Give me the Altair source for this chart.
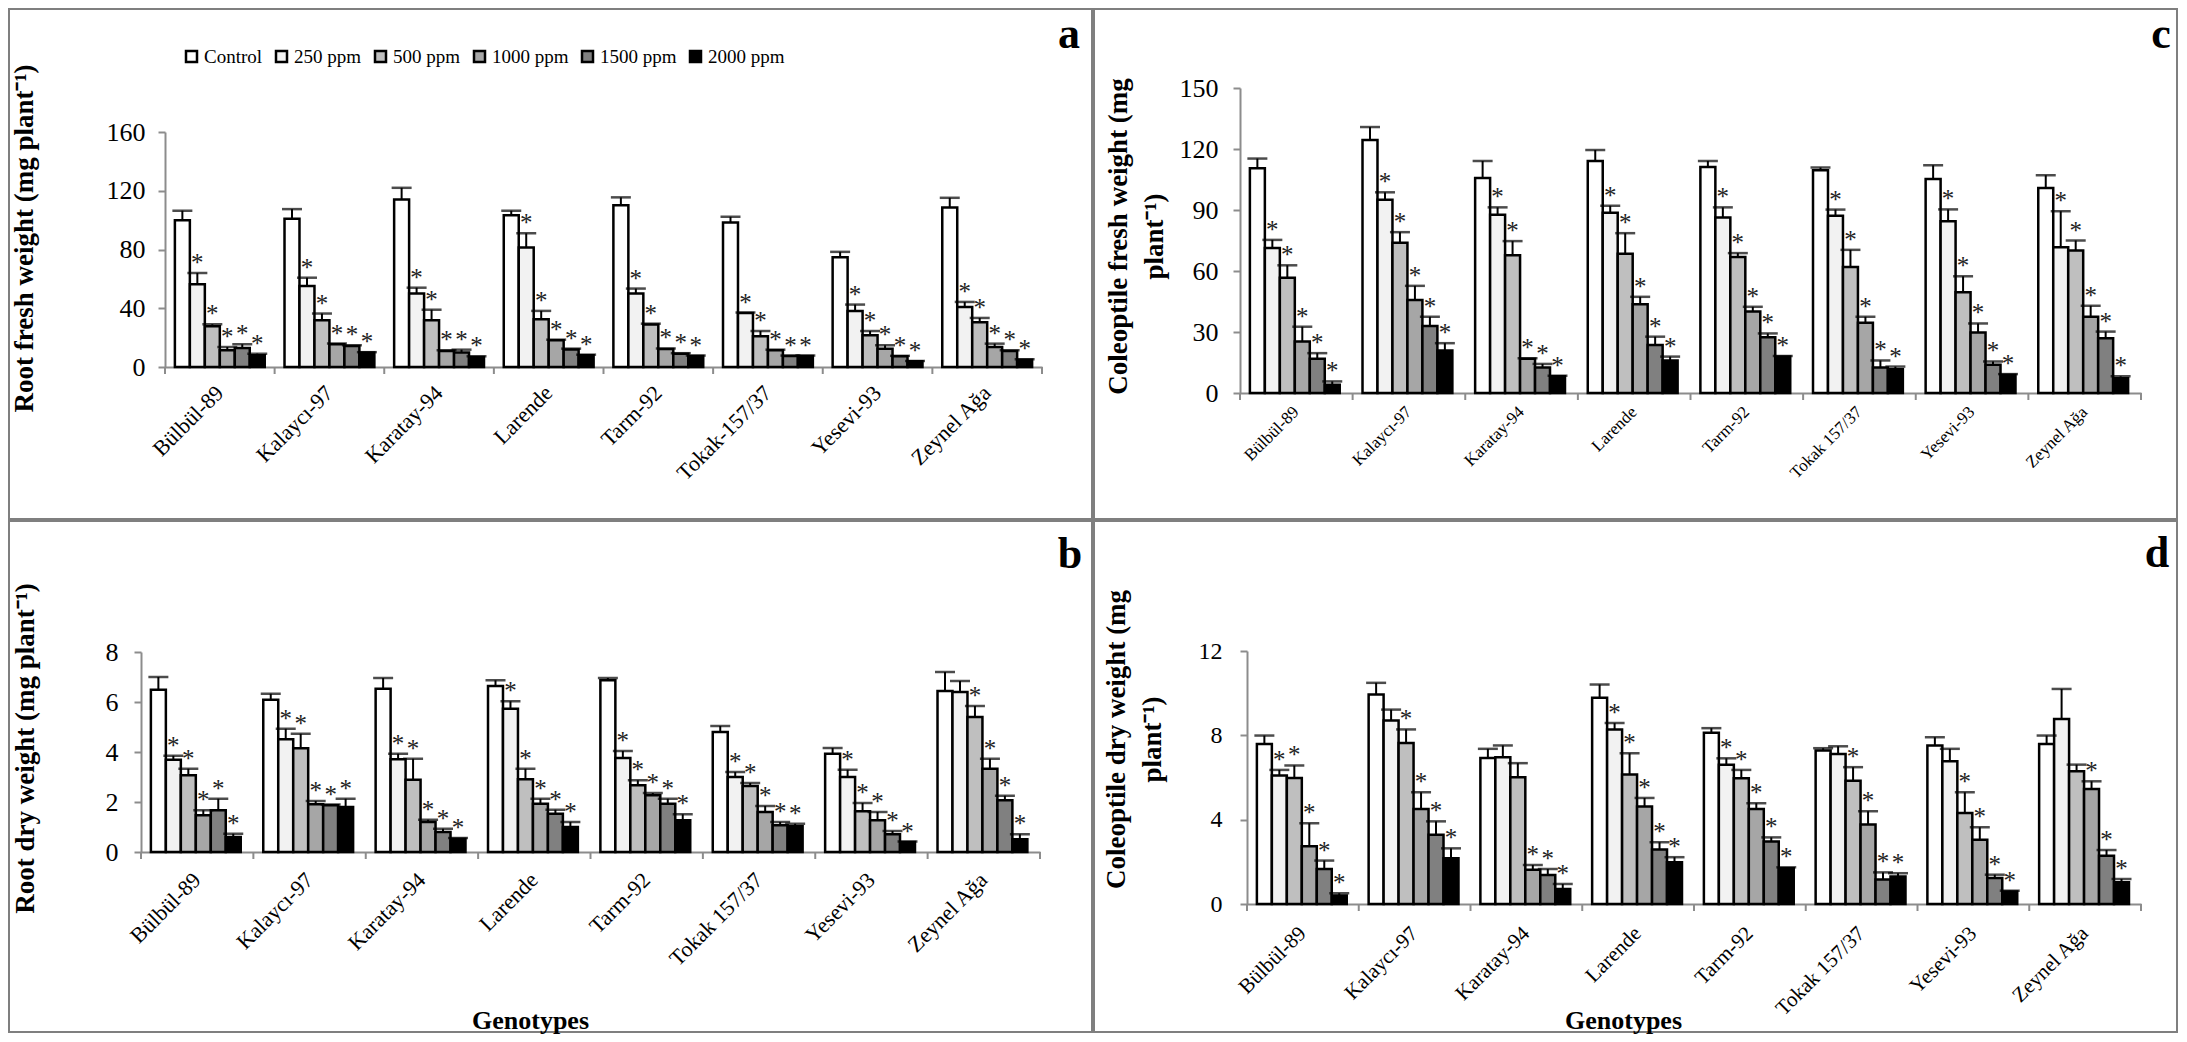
import altair as alt
import pandas as pd

FONT = "Liberation Serif"
GRAY = "#8c8c8c"

treatments = ["Control", "250 ppm", "500 ppm", "1000 ppm", "1500 ppm", "2000 ppm"]
genotypes_a = ["Bülbül-89", "Kalaycı-97", "Karatay-94", "Larende", "Tarm-92",
               "Tokak-157/37", "Yesevi-93", "Zeynel Ağa"]
genotypes_bcd = ["Bülbül-89", "Kalaycı-97", "Karatay-94", "Larende", "Tarm-92",
                 "Tokak 157/37", "Yesevi-93", "Zeynel Ağa"]

colors_a = ["#ffffff", "#f2f2f2", "#bfbfbf", "#a6a6a6", "#808080", "#000000"]
colors_bcd = ["#ffffff", "#f2f2f2", "#d9d9d9", "#bfbfbf", "#808080", "#000000"]

# (a) Root fresh weight
a_mean = [[100, 56.4, 27.7, 11.4, 13.0, 8.0],
          [101, 55.2, 31.8, 15.5, 14.3, 9.8],
          [114, 50.0, 31.8, 10.9, 9.8, 6.8],
          [103.4, 81.4, 32.5, 18.2, 12.0, 8.0],
          [110.2, 50.0, 29.0, 12.3, 9.1, 7.5],
          [98.4, 36.8, 20.9, 11.4, 7.5, 7.5],
          [74.8, 38.2, 21.6, 12.5, 7.3, 3.9],
          [108.6, 40.9, 30.5, 13.6, 10.9, 5.0]]
a_err = [[6.4, 7.6, 1.4, 2.2, 2.5, 1.1],
         [6.5, 5.6, 4.6, 0.5, 0.5, 0.3],
         [8.0, 4.0, 7.2, 0.5, 2.0, 0.5],
         [3.0, 9.6, 5.7, 0.4, 0.5, 0.4],
         [5.3, 3.4, 0.5, 0.3, 0.3, 0.3],
         [3.9, 0.3, 3.6, 0.4, 0.3, 0.3],
         [3.6, 4.3, 2.9, 2.3, 0.3, 0.2],
         [6.6, 3.4, 2.9, 2.3, 0.5, 0.3]]
a_star = ["011111"] * 8

# (b) Root dry weight
b_mean = [[6.49, 3.69, 3.07, 1.47, 1.67, 0.60],
          [6.09, 4.51, 4.15, 1.91, 1.87, 1.80],
          [6.53, 3.71, 2.89, 1.20, 0.80, 0.53],
          [6.64, 5.73, 2.91, 1.93, 1.53, 1.00],
          [6.87, 3.76, 2.67, 2.27, 1.93, 1.27],
          [4.80, 3.00, 2.64, 1.60, 1.07, 1.03],
          [3.93, 3.00, 1.63, 1.27, 0.71, 0.40],
          [6.44, 6.40, 5.40, 3.33, 2.07, 0.51]]
b_err = [[0.51, 0.16, 0.26, 0.20, 0.46, 0.13],
         [0.24, 0.42, 0.58, 0.13, 0.03, 0.33],
         [0.43, 0.22, 0.84, 0.09, 0.13, 0.03],
         [0.23, 0.30, 0.42, 0.20, 0.16, 0.20],
         [0.09, 0.28, 0.20, 0.09, 0.20, 0.24],
         [0.24, 0.20, 0.12, 0.24, 0.13, 0.10],
         [0.23, 0.29, 0.33, 0.33, 0.13, 0.02],
         [0.76, 0.44, 0.44, 0.40, 0.18, 0.20]]
b_star = ["011111"] * 7 + ["001111"]

# (c) Coleoptile fresh weight
c_mean = [[110.5, 71.3, 56.7, 25.3, 16.8, 4.1],
          [124.4, 95.1, 73.9, 45.7, 32.9, 20.9],
          [105.7, 87.7, 67.7, 16.8, 12.6, 8.2],
          [114.1, 88.7, 68.5, 43.7, 23.6, 16.0],
          [111.2, 86.3, 66.9, 40.1, 27.4, 17.9],
          [109.6, 87.2, 62.0, 34.6, 12.6, 11.7],
          [105.2, 84.5, 49.6, 29.8, 13.9, 9.0],
          [100.8, 71.7, 70.1, 37.5, 26.9, 7.3]]
c_err = [[4.8, 4.0, 6.1, 7.3, 2.8, 1.6],
         [6.4, 3.6, 5.2, 7.0, 4.6, 3.6],
         [8.4, 3.6, 7.0, 0.3, 1.7, 0.3],
         [5.4, 3.4, 10.1, 3.6, 4.1, 1.9],
         [2.9, 5.0, 1.9, 2.3, 1.9, 0.3],
         [1.3, 3.0, 8.4, 2.9, 3.4, 1.3],
         [6.8, 5.8, 7.8, 4.4, 1.6, 0.3],
         [6.3, 17.7, 4.9, 5.4, 3.3, 0.9]]
c_star = ["011111"] * 8

# (d) Coleoptile dry weight
d_mean = [[7.59, 6.09, 5.98, 2.74, 1.66, 0.40],
          [9.94, 8.70, 7.64, 4.51, 3.29, 2.17],
          [6.93, 6.96, 6.01, 1.63, 1.38, 0.71],
          [9.78, 8.28, 6.14, 4.62, 2.58, 1.98],
          [8.12, 6.61, 5.97, 4.51, 2.97, 1.69],
          [7.28, 7.12, 5.85, 3.77, 1.16, 1.30],
          [7.52, 6.77, 4.32, 3.05, 1.23, 0.59],
          [7.59, 8.78, 6.30, 5.46, 2.29, 1.03]]
d_err = [[0.40, 0.27, 0.59, 1.09, 0.40, 0.11],
         [0.55, 0.52, 0.64, 0.79, 0.63, 0.47],
         [0.43, 0.56, 0.67, 0.22, 0.28, 0.24],
         [0.63, 0.30, 1.01, 0.41, 0.35, 0.24],
         [0.22, 0.30, 0.39, 0.27, 0.19, 0.05],
         [0.11, 0.36, 0.64, 0.63, 0.34, 0.16],
         [0.39, 0.59, 0.98, 0.59, 0.16, 0.04],
         [0.40, 1.42, 0.31, 0.36, 0.27, 0.16]]
d_star = ["011111", "001111", "000111", "011111", "011111", "001111", "001111", "000111"]


def make_df(genos, means, errs, stars):
    rows = []
    for gi, g in enumerate(genos):
        for ti, t in enumerate(treatments):
            m = means[gi][ti]
            e = errs[gi][ti]
            rows.append(dict(Genotype=g, Treatment=t, Mean=m, Upper=round(m + e, 3),
                             Star=stars[gi][ti] == "1"))
    return pd.DataFrame(rows)


def panel(p):
    genos = p["genos"]
    df = make_df(genos, p["mean"], p["err"], p["star"])
    vx1, vy1, vx2, vy2 = p["view"]
    px1, py1, px2, py2 = p["plot"]
    VW, VH = vx2 - vx1, vy2 - vy1
    L, R, T, B = px1 - vx1, px2 - vx1, py1 - vy1, py2 - vy1

    xaxis_kw = dict(labelAngle=-45, labelAlign="right", labelBaseline="middle",
                    labelFont=FONT, labelFontSize=p["xlab"], labelColor="black",
                    labelPadding=p["xpad"], labelLimit=400, ticks=False,
                    domainColor=GRAY, domainWidth=2, offset=-(VH - B))
    if "xtitle" in p:
        xaxis_kw.update(title="Genotypes", titleFont=FONT, titleFontSize=26,
                        titleFontWeight="bold", titleColor="black",
                        titleX=p["xtitle"][0] - vx1, titleY=p["xtitle"][1] - py2,
                        titleAlign="center", titleBaseline="middle", titleAngle=0)
    else:
        xaxis_kw.update(title="")
    xaxis = alt.Axis(**xaxis_kw)

    yaxis = alt.Axis(values=p["yvals"], title=p["ytitle"], titleFont=FONT,
                     titleFontSize=27, titleFontWeight="bold", titleColor="black",
                     titleX=p["ytpos"][0] - px1, titleY=p["ytpos"][1] - vy1, titleAngle=270,
                     titleAlign="center", titleBaseline="middle", titleLineHeight=36,
                     titleLimit=1000, offset=-L,
                     labelFont=FONT, labelFontSize=p["ylab"], labelColor="black",
                     labelPadding=p["ypad"], tickSize=7, tickColor=GRAY, tickWidth=2,
                     domainColor=GRAY, domainWidth=2, grid=False)

    xs = alt.Scale(domain=genos, range=[L, R], paddingInner=0, paddingOuter=0)
    ys = alt.Scale(domain=[0, p["ymax"]], range=[B, T], nice=False, zero=True)
    x = alt.X("Genotype:N", sort=genos, scale=xs, axis=xaxis)
    xo = alt.XOffset("Treatment:N", sort=treatments,
                     scale=alt.Scale(domain=treatments, paddingInner=0, paddingOuter=0.66))
    y_mean = alt.Y("Mean:Q", scale=ys, axis=yaxis)
    y_up = alt.Y("Upper:Q", scale=ys, axis=yaxis)

    lx, ly = p["legend"]
    legend = alt.Legend(orient="none", legendX=lx - vx1, legendY=ly - vy1,
                        direction="horizontal", columns=6, title=None,
                        symbolType="square", symbolSize=121,
                        symbolStrokeColor="black", symbolStrokeWidth=2.5,
                        labelFont=FONT, labelFontSize=19, labelColor="black",
                        labelOffset=3, columnPadding=8, padding=0, rowPadding=0)

    base = alt.Chart(df)
    bars = base.mark_bar(stroke="black", strokeWidth=2.5).encode(
        x=x, xOffset=xo, y=y_mean,
        fill=alt.Fill("Treatment:N", sort=treatments,
                      scale=alt.Scale(domain=treatments, range=p["colors"]), legend=legend))
    err = base.mark_rule(color="black", strokeWidth=2).encode(
        x=x, xOffset=xo, y=y_mean, y2="Upper:Q")
    caps = base.mark_tick(color="black", thickness=2.5, size=20).encode(
        x=x, xOffset=xo, y=y_up)
    stars = base.transform_filter("datum.Star").mark_text(
        text="*", font=FONT, fontSize=25, color="#222222", baseline="alphabetic",
        align="center", dy=-2).encode(x=x, xOffset=xo, y=y_up)

    tick_df = pd.DataFrame({"Genotype": genos})
    xticks = alt.Chart(tick_df).mark_rule(color=GRAY, strokeWidth=2).encode(
        x=alt.X("Genotype:N", sort=genos, scale=xs, axis=xaxis, bandPosition=0),
        y=alt.value(B), y2=alt.value(B + 7))
    dummy = pd.DataFrame({"k": [0]})
    last_tick = alt.Chart(dummy).mark_rule(color=GRAY, strokeWidth=2).encode(
        x=alt.value(R), y=alt.value(B), y2=alt.value(B + 7))

    lt_x, lt_y = p["letter_pos"]
    letter = alt.Chart(dummy).mark_text(
        text=p["letter"], font=FONT, fontSize=44, fontWeight="bold", color="black",
        align="center", baseline="alphabetic").encode(
        x=alt.value(lt_x - vx1), y=alt.value(lt_y - vy1))

    return alt.layer(bars, err, caps, stars, xticks, last_tick, letter).properties(
        width=VW, height=VH)


pa = dict(genos=genotypes_a, mean=a_mean, err=a_err, star=a_star, colors=colors_a,
          view=(9, 9, 1092, 519), plot=(165, 132, 1042, 367),
          ymax=160, yvals=[0, 40, 80, 120, 160],
          ytitle="Root fresh weight (mg plant⁻¹)", ytpos=(24, 238),
          ylab=26, ypad=13, xlab=22, xpad=22, legend=(182, 47),
          letter="a", letter_pos=(1069, 48))
pb = dict(genos=genotypes_bcd, mean=b_mean, err=b_err, star=b_star, colors=colors_bcd,
          view=(9, 521, 1092, 1032), plot=(141, 652, 1040, 852),
          ymax=8, yvals=[0, 2, 4, 6, 8],
          ytitle="Root dry weight (mg plant⁻¹)", ytpos=(25, 748),
          ylab=26, ypad=16, xlab=22, xpad=24, legend=(184, 567),
          xtitle=(530, 1020),
          letter="b", letter_pos=(1070, 568))
pc = dict(genos=genotypes_bcd, mean=c_mean, err=c_err, star=c_star, colors=colors_bcd,
          view=(1094, 9, 2177, 519), plot=(1240, 88, 2141, 393),
          ymax=150, yvals=[0, 30, 60, 90, 120, 150],
          ytitle=["Coleoptile fresh weight (mg", "plant⁻¹)"], ytpos=(1118, 236),
          ylab=26, ypad=15, xlab=17, xpad=16, legend=(1278, 47),
          letter="c", letter_pos=(2161, 48))
pd_ = dict(genos=genotypes_bcd, mean=d_mean, err=d_err, star=d_star, colors=colors_bcd,
           view=(1094, 521, 2177, 1032), plot=(1247, 651, 2141, 904),
           ymax=12, yvals=[0, 4, 8, 12],
           ytitle=["Coleoptile dry weight (mg", "plant⁻¹)"], ytpos=(1116, 739),
           ylab=24, ypad=18, xlab=21, xpad=26, legend=(1278, 564),
           xtitle=(1623, 1020),
           letter="d", letter_pos=(2157, 567))

chart = alt.vconcat(
    alt.hconcat(panel(pa), panel(pc), spacing=0),
    alt.hconcat(panel(pb), panel(pd_), spacing=0),
    spacing=0,
).properties(padding=0, background="white").configure_view(stroke="#7f7f7f", strokeWidth=2)

chart.save("out.html", embed_options={"renderer": "svg", "actions": False})
